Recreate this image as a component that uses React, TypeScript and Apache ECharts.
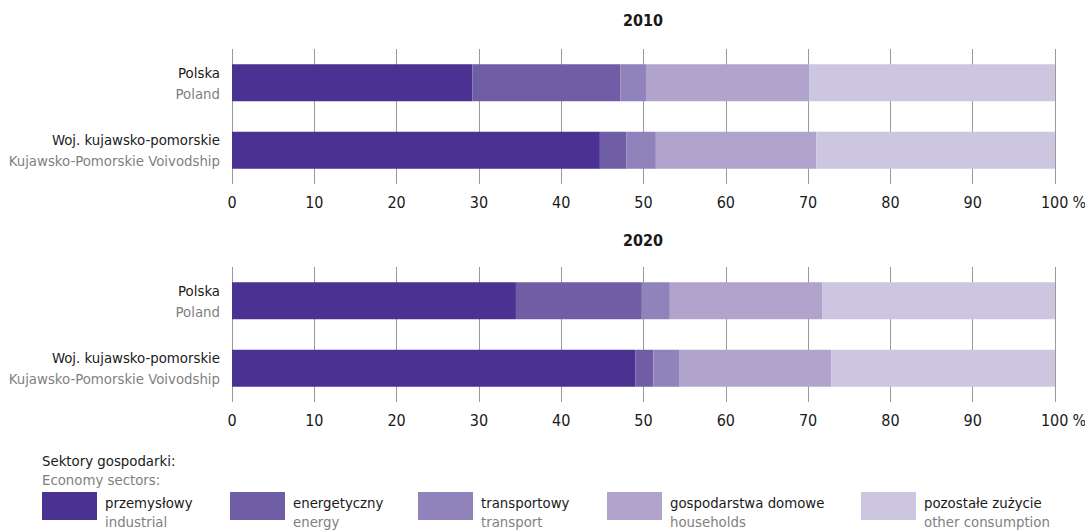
import React, { useEffect, useRef } from "react";
import * as echarts from "echarts";

const categoriesPl = ["Polska", "Woj. kujawsko-pomorskie"];
const categoriesEn = ["Poland", "Kujawsko-Pomorskie Voivodship"];
const years = ["2010", "2020"];
const sectorsPl = ["przemysłowy", "energetyczny", "transportowy", "gospodarstwa domowe", "pozostałe zużycie"];
const sectorsEn = ["industrial", "energy", "transport", "households", "other consumption"];
const colors = ["#4a3192", "#6f5ea6", "#9082ba", "#b0a4cd", "#ccc6e0"];
// values per year: [sector][category]
const values2010 = [
  [29.2, 44.7],
  [18.0, 3.2],
  [3.1, 3.6],
  [19.8, 19.5],
  [29.9, 29.0],
];
const values2020 = [
  [34.5, 49.0],
  [15.3, 2.2],
  [3.4, 3.2],
  [18.5, 18.4],
  [28.3, 27.2],
];
const xTicks = [0, 10, 20, 30, 40, 50, 60, 70, 80, 90, 100];

const FONT = "'DejaVu Sans Condensed', 'Liberation Sans Narrow', sans-serif";
const GRAY = "#7f7f7f";
const BLACK = "#1a1a1a";
const FS = 14.8;

export default function App() {
  const ref = useRef<HTMLDivElement>(null);
  useEffect(() => {
    if (!ref.current) return;
    const chart = echarts.init(ref.current, undefined, { renderer: "svg" });
    const gridTops = [49, 267];
    const yearValues = [values2010, values2020];
    const legendLefts = [42, 230, 418, 607, 861];

    const xAxis = gridTops.map((_, i) => ({
      type: "value",
      gridIndex: i,
      min: xTicks[0],
      max: xTicks[xTicks.length - 1],
      interval: 10,
      axisLine: { show: false },
      axisTick: { show: false },
      splitLine: { show: true, lineStyle: { color: "#9a9a9a", width: 1 } },
      axisLabel: {
        margin: 10,
        fontFamily: FONT,
        fontSize: 16,
        color: BLACK,
        formatter: (v: number) => (v === 100 ? "{n|100}{p|%}" : String(v)),
        rich: {
          n: { fontFamily: FONT, fontSize: 16, color: BLACK, padding: [0, 0, 0, 17] },
          p: { fontFamily: FONT, fontSize: 16, color: BLACK, padding: [0, 0, 0, 4] },
        },
      },
    }));
    const yAxis = gridTops.map((_, i) => ({
      type: "category",
      gridIndex: i,
      inverse: true,
      data: categoriesPl,
      axisLine: { show: false },
      axisTick: { show: false },
      splitLine: { show: false },
      axisLabel: {
        margin: 12,
        align: "right",
        formatter: (v: string) => {
          const idx = categoriesPl.indexOf(v);
          return `{a|${v}}\n{b|${categoriesEn[idx]}}`;
        },
        rich: {
          a: { fontFamily: FONT, fontSize: FS, color: BLACK, lineHeight: 21, align: "right" },
          b: { fontFamily: FONT, fontSize: FS, color: GRAY, lineHeight: 21, align: "right" },
        },
      },
    }));
    const series: any[] = [];
    yearValues.forEach((vals, gi) => {
      sectorsPl.forEach((name, si) => {
        series.push({
          type: "bar",
          name,
          stack: "y" + gi,
          xAxisIndex: gi,
          yAxisIndex: gi,
          barWidth: 37,
          itemStyle: { color: colors[si] },
          data: vals[si],
        });
      });
    });

    const legends = sectorsPl.map((name, i) => ({
      show: true,
      left: legendLefts[i],
      top: 492,
      orient: "horizontal",
      data: [{ name, icon: "rect" }],
      itemWidth: 55,
      itemHeight: 28,
      selectedMode: false,
      padding: 0,
      formatter: (n: string) => `{a|${n}}\n{b|${sectorsEn[sectorsPl.indexOf(n)]}}`,
      textStyle: {
        padding: [11, 0, 0, 3],
        rich: {
          a: { fontFamily: FONT, fontSize: FS, color: BLACK, lineHeight: 19 },
          b: { fontFamily: FONT, fontSize: FS, color: GRAY, lineHeight: 19 },
        },
      },
    }));

    chart.setOption({
      animation: false,
      backgroundColor: "#ffffff",
      textStyle: { fontFamily: FONT },
      title: [
        ...years.map((y, i) => ({
          text: y,
          left: 643,
          top: [12, 232][i],
          textAlign: "center",
          padding: 0,
          textStyle: { fontFamily: FONT, fontSize: 16, fontWeight: "bold", color: BLACK },
        })),
        {
          text: "Sektory gospodarki:",
          subtext: "Economy sectors:",
          left: 42,
          top: 453,
          padding: 0,
          itemGap: 4,
          textStyle: { fontFamily: FONT, fontSize: FS, fontWeight: "normal", color: BLACK },
          subtextStyle: { fontFamily: FONT, fontSize: FS, color: GRAY },
        },
      ],
      legend: legends,
      grid: gridTops.map((t) => ({
        left: 232,
        right: 30,
        top: t,
        height: 135,
        containLabel: false,
        outerBoundsMode: "none",
      })),
      xAxis,
      yAxis,
      series,
    });
    return () => chart.dispose();
  }, []);
  return (
    <div
      ref={ref}
      style={{ position: "fixed", left: 0, top: 0, width: 1085, height: 531, background: "#fff" }}
    />
  );
}
